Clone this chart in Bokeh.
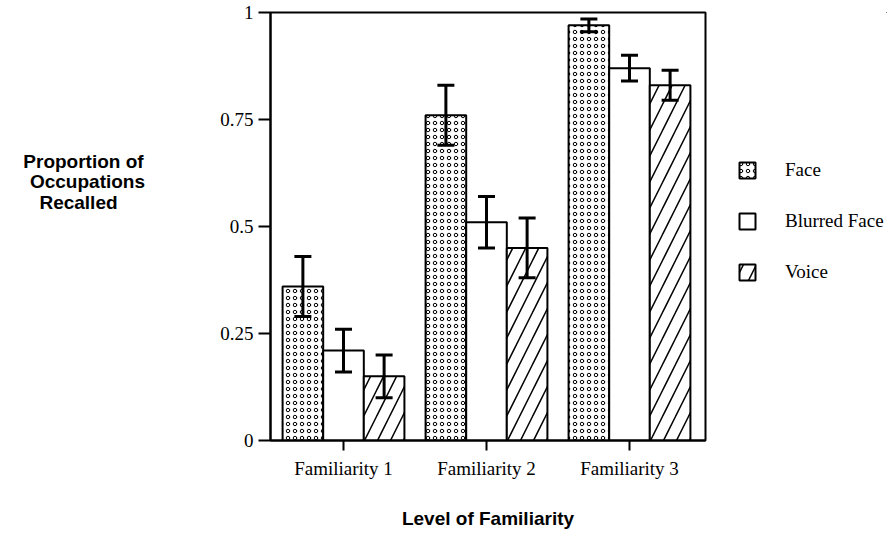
from bokeh.plotting import figure
from bokeh.models import (ColumnDataSource, Whisker, TeeHead, Legend, LegendItem,
                          FixedTicker)
from bokeh.layouts import row
from bokeh.transform import dodge
from bokeh.core.properties import value
from bokeh.embed import file_html
from bokeh.resources import INLINE

# ---- data ----
categories = ["Familiarity 1", "Familiarity 2", "Familiarity 3"]
cat_pos = [1, 2, 3]
face = [0.36, 0.76, 0.97]
face_err = [0.07, 0.07, 0.015]
blurred = [0.21, 0.51, 0.87]
blurred_err = [0.05, 0.06, 0.03]
voice = [0.15, 0.45, 0.83]
voice_err = [0.05, 0.07, 0.035]
y_ticks = [0, 0.25, 0.5, 0.75, 1]
y_tick_labels = ["0", "0.25", "0.5", "0.75", "1"]
series_names = ["Face", "Blurred Face", "Voice"]
y_title_lines = ["Proportion of", "Occupations", "Recalled"]
x_title = "Level of Familiarity"

W, H = 887, 538
TOP, BOT = 12, 98            # identical vertical borders for all panels
FRAME_BOTTOM = H - BOT       # page y of the plot frame bottom (440)
LW = 200                     # left strip (y title)
MW = 70 + 435 + 10           # main chart
RW = W - LW - MW             # right strip (legend)

bw = 0.284
offsets = [-bw, 0.0, bw]
series = [face, blurred, voice]
errs = [face_err, blurred_err, voice_err]
hatches = ["o", " ", "/"]
scales = [7.0, 12.0, 26.0]
weights = [1.0, 1.0, 1.5]
bar_style = [dict(fill_color="white", line_color="black", line_width=2,
                  hatch_pattern=hp, hatch_color="black", hatch_scale=hs,
                  hatch_weight=hw)
             for hp, hs, hw in zip(hatches, scales, weights)]


def strip(width, xr, yr):
    f = figure(width=width, height=H, output_backend="svg",
               toolbar_location=None, x_range=xr, y_range=yr,
               min_border_left=0, min_border_right=0,
               min_border_top=TOP, min_border_bottom=BOT,
               x_axis_type=None, y_axis_type=None, title=None)
    f.grid.visible = False
    f.outline_line_color = None
    return f


# ---- left strip with the y title (y range in page pixels, top-down) ----
lf = strip(LW, (0, LW), (FRAME_BOTTOM, TOP))
lf.text(x=[83, 87, 78], y=[161, 181, 202], text=y_title_lines,
        text_align="center", text_baseline="middle",
        text_font=value("Liberation Sans"), text_font_style="bold",
        text_font_size="19px", text_color="black")

# ---- main chart ----
p = figure(width=MW, height=H, output_backend="svg", toolbar_location=None,
           x_range=(0.4895, 3.5315), y_range=(0, 1),
           min_border_left=270 - LW, min_border_right=10, min_border_top=TOP,
           min_border_bottom=BOT)
p.grid.visible = False
p.outline_line_color = "black"
p.outline_line_width = 2

for vals, err, off, st in zip(series, errs, offsets, bar_style):
    src = ColumnDataSource(dict(x=cat_pos, top=vals,
                                upper=[v + e for v, e in zip(vals, err)],
                                lower=[v - e for v, e in zip(vals, err)]))
    p.vbar(x=dodge("x", off), top="top", bottom=0, width=bw, source=src, **st)
    wk = Whisker(source=src, base=dodge("x", off), upper="upper", lower="lower",
                 line_color="black", line_width=3, level="annotation",
                 upper_head=TeeHead(size=17, line_width=3, line_color="black"),
                 lower_head=TeeHead(size=17, line_width=3, line_color="black"))
    p.add_layout(wk)

p.yaxis.ticker = FixedTicker(ticks=y_ticks)
p.yaxis.major_label_overrides = {t: l for t, l in zip(y_ticks, y_tick_labels)}
p.yaxis.minor_tick_line_color = None
p.yaxis.major_tick_out = 12
p.yaxis.major_tick_in = 0
p.yaxis.major_tick_line_width = 2
p.yaxis.axis_line_width = 2
p.yaxis.major_label_standoff = 5
p.yaxis.major_label_text_font = "Liberation Serif"
p.yaxis.major_label_text_font_size = "19px"
p.yaxis.major_label_text_color = "black"

p.xaxis.ticker = FixedTicker(ticks=cat_pos)
p.xaxis.major_label_overrides = {c: l for c, l in zip(cat_pos, categories)}
p.xaxis.minor_tick_line_color = None
p.xaxis.major_tick_out = 10
p.xaxis.major_tick_in = 0
p.xaxis.major_tick_line_width = 2
p.xaxis.axis_line_width = 2
p.xaxis.major_label_standoff = 7
p.xaxis.major_label_text_font = "Liberation Serif"
p.xaxis.major_label_text_font_size = "19px"
p.xaxis.major_label_text_color = "black"
p.xaxis.axis_label = x_title
p.xaxis.axis_label_text_font = "Liberation Sans"
p.xaxis.axis_label_text_font_style = "bold"
p.xaxis.axis_label_text_font_size = "19px"
p.xaxis.axis_label_text_color = "black"
p.xaxis.axis_label_standoff = 26

# ---- right strip with the legend (proxy glyphs lie outside its range) ----
rf = strip(RW, (0, 1), (0, 1))
legend_renderers = [rf.vbar(x=[5], top=[5], bottom=[4], width=0.1, **st)
                    for st in bar_style]
items = [LegendItem(label=n, renderers=[r])
         for n, r in zip(series_names, legend_renderers)]
leg = Legend(items=items, location=(737 - LW - MW, FRAME_BOTTOM - 283),
             glyph_width=20, glyph_height=20, spacing=29, label_standoff=28,
             padding=0, margin=0, border_line_color=None,
             background_fill_alpha=0, label_text_font="Liberation Serif",
             label_text_font_size="19px", label_text_color="black",
             label_height=20)
rf.add_layout(leg, "center")

open("out.html", "w").write(file_html(row(lf, p, rf), INLINE))
